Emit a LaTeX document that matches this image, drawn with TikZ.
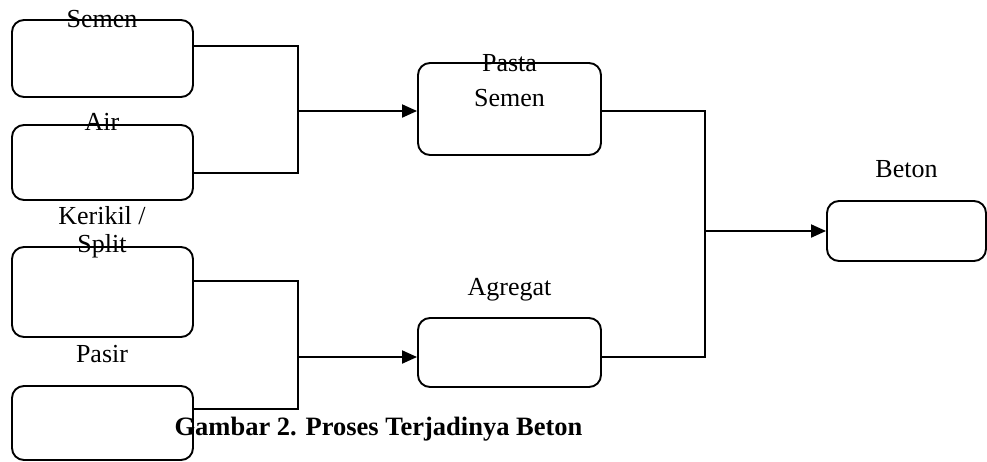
\documentclass[tikz,border=0pt]{standalone}
\usepackage{fontspec}
\setmainfont{Liberation Serif}
\usetikzlibrary{arrows.meta,calc}
\tikzset{
  box/.style={draw, line width=1.9pt, rounded corners=12pt, inner sep=0pt},
  wire/.style={line width=1.9pt},
  feed/.style={wire, -{Triangle[length=15pt,width=13pt]}},
  lbl/.style={anchor=base, inner sep=0pt, font=\fontsize{26}{28}\selectfont},
}
\begin{document}
\begin{tikzpicture}[x=1pt,y=-1pt]
\path[use as bounding box] (0,0) rectangle (987,461);

% input boxes
\node[box, minimum width=181pt, minimum height=77pt] (semen) at (102.5,58.5) {};
\node[box, minimum width=181pt, minimum height=75pt] (air) at (102.5,162.5) {};
\node[box, minimum width=181pt, minimum height=90pt] (kerikil) at (102.5,292) {};
\node[box, minimum width=181pt, minimum height=74pt] (pasir) at (102.5,423) {};

% intermediate and final boxes
\node[box, minimum width=183pt, minimum height=92pt] (pasta) at (509.5,109) {};
\node[box, minimum width=183pt, minimum height=69pt] (agregat) at (509.5,352.5) {};
\node[box, minimum width=159pt, minimum height=60pt] (beton) at (906.5,231) {};

% labels
\node[lbl] (tsemen) at (102,27) {Semen};
\node[lbl] (tair) at (102,130) {Air};
\node[lbl] (tkerikil) at (102,224) {Kerikil /};
\node[lbl] (tsplit) at (102,252) {Split};
\node[lbl] (tpasir) at (102,362) {Pasir};
\node[lbl] (tpasta) at (509.5,71) {Pasta};
\node[lbl] (tpsemen) at (509.5,106) {Semen};
\node[lbl] (tagregat) at (509.5,295) {Agregat};
\node[lbl] (tbeton) at (906.5,177) {Beton};
\node[lbl, font=\fontsize{26.5}{28}\selectfont\bfseries] (caption) at (378.5,435) {Gambar 2. Proses Terjadinya Beton};

% junction points
\coordinate (b1t) at (298,46);
\coordinate (b1b) at (298,173);
\coordinate (b1m) at (298,111);
\coordinate (b2t) at (298,281);
\coordinate (b2b) at (298,409);
\coordinate (b2m) at (298,357);
\coordinate (b3t) at (705,111);
\coordinate (b3b) at (705,357);
\coordinate (b3m) at (705,231);

% cement + water -> paste
\draw[wire] ([yshift=12.5pt]semen.east) -- (b1t) -- (b1b) -- ([yshift=-10.5pt]air.east);
\draw[feed] (b1m) -- (pasta.west |- b1m);

% gravel + sand -> aggregate
\draw[wire] ([yshift=11pt]kerikil.east) -- (b2t) -- (b2b) -- ([yshift=14pt]pasir.east);
\draw[feed] (b2m) -- (agregat.west |- b2m);

% paste + aggregate -> concrete
\draw[wire] (pasta.east |- b3t) -- (b3t) -- (b3b) -- (agregat.east |- b3b);
\draw[feed] (b3m) -- (beton.west |- b3m);
\end{tikzpicture}
\end{document}
